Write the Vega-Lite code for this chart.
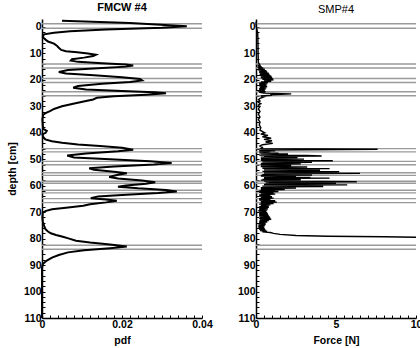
{
  "$schema": "https://vega.github.io/schema/vega-lite/v6.json",
  "padding": {"left": 7, "top": 1, "right": 0, "bottom": 0},
  "bounds": "flush",
  "spacing": 54,
  "config": {
    "view": {"stroke": null},
    "font": "Liberation Sans",
    "axis": {
      "grid": false,
      "domainColor": "black",
      "domainWidth": 1.5,
      "tickColor": "black",
      "tickWidth": 1,
      "tickSize": -3,
      "labelPadding": 4,
      "labelFont": "Liberation Sans",
      "labelFontWeight": "bold",
      "labelFontSize": 10.5,
      "labelColor": "black",
      "labelFlush": false,
      "labelOverlap": false,
      "titleFont": "Liberation Sans",
      "titleFontWeight": "bold",
      "titleFontSize": 10.5,
      "titleColor": "black",
      "titlePadding": 6
    },
    "title": {"font": "Liberation Sans", "fontSize": 11, "color": "black", "anchor": "middle", "offset": 4}
  },
  "datasets": {
    "layers": [
      {"depth": -1.2}, {"depth": 0.5}, {"depth": 14}, {"depth": 15.5}, {"depth": 19.5}, {"depth": 21},
      {"depth": 24.5}, {"depth": 26}, {"depth": 46}, {"depth": 47.2}, {"depth": 50.8}, {"depth": 52.1},
      {"depth": 55.1}, {"depth": 56.1}, {"depth": 58.3}, {"depth": 59.1}, {"depth": 61.7}, {"depth": 62.7},
      {"depth": 64.9}, {"depth": 66.4}, {"depth": 82.5}, {"depth": 84}
    ],
    "fmcw": [
      {"depth": -2.3, "pdf": 0.005}, {"depth": -1.5, "pdf": 0.022}, {"depth": -0.3, "pdf": 0.0362},
      {"depth": 0.3, "pdf": 0.03}, {"depth": 1.0, "pdf": 0.016}, {"depth": 1.6, "pdf": 0.007},
      {"depth": 2.2, "pdf": 0.003}, {"depth": 2.8, "pdf": 0.0005}, {"depth": 3.8, "pdf": 0.0002},
      {"depth": 4.7, "pdf": 0.0008}, {"depth": 5.5, "pdf": 0.0015}, {"depth": 6.3, "pdf": 0.003},
      {"depth": 7.2, "pdf": 0.0038}, {"depth": 7.9, "pdf": 0.0042}, {"depth": 8.7, "pdf": 0.0048},
      {"depth": 9.2, "pdf": 0.006}, {"depth": 9.6, "pdf": 0.0088}, {"depth": 10.0, "pdf": 0.0115},
      {"depth": 10.5, "pdf": 0.0135}, {"depth": 11.0, "pdf": 0.0128}, {"depth": 11.6, "pdf": 0.0105},
      {"depth": 12.2, "pdf": 0.0075}, {"depth": 12.7, "pdf": 0.0072}, {"depth": 13.2, "pdf": 0.009},
      {"depth": 13.7, "pdf": 0.015}, {"depth": 14.2, "pdf": 0.021}, {"depth": 14.6, "pdf": 0.0228},
      {"depth": 15.0, "pdf": 0.021}, {"depth": 15.6, "pdf": 0.014}, {"depth": 16.3, "pdf": 0.0065},
      {"depth": 17.0, "pdf": 0.0042}, {"depth": 17.6, "pdf": 0.006}, {"depth": 18.3, "pdf": 0.013},
      {"depth": 19.0, "pdf": 0.02}, {"depth": 19.7, "pdf": 0.0245}, {"depth": 20.2, "pdf": 0.025},
      {"depth": 20.8, "pdf": 0.022}, {"depth": 21.5, "pdf": 0.015}, {"depth": 22.3, "pdf": 0.009},
      {"depth": 23.0, "pdf": 0.0078}, {"depth": 23.6, "pdf": 0.011}, {"depth": 24.2, "pdf": 0.02},
      {"depth": 24.7, "pdf": 0.028}, {"depth": 25.1, "pdf": 0.031}, {"depth": 25.6, "pdf": 0.026},
      {"depth": 26.2, "pdf": 0.018}, {"depth": 26.8, "pdf": 0.0137}, {"depth": 27.4, "pdf": 0.0128},
      {"depth": 28.0, "pdf": 0.011}, {"depth": 29.0, "pdf": 0.0078}, {"depth": 30.0, "pdf": 0.005},
      {"depth": 31.0, "pdf": 0.003}, {"depth": 31.8, "pdf": 0.002}, {"depth": 32.5, "pdf": 0.001},
      {"depth": 33.2, "pdf": 0.0003}, {"depth": 35.0, "pdf": 0.0001}, {"depth": 37.0, "pdf": 0.0002},
      {"depth": 38.5, "pdf": 0.0003}, {"depth": 39.3, "pdf": 0.0012}, {"depth": 40.0, "pdf": 0.0009},
      {"depth": 40.6, "pdf": 0.0001}, {"depth": 41.5, "pdf": 0.0003}, {"depth": 42.5, "pdf": 0.0008},
      {"depth": 43.2, "pdf": 0.0025}, {"depth": 43.8, "pdf": 0.005}, {"depth": 44.4, "pdf": 0.009},
      {"depth": 45.0, "pdf": 0.0145}, {"depth": 45.7, "pdf": 0.02}, {"depth": 46.4, "pdf": 0.0228},
      {"depth": 47.0, "pdf": 0.019}, {"depth": 47.8, "pdf": 0.011}, {"depth": 48.6, "pdf": 0.0063},
      {"depth": 49.3, "pdf": 0.008}, {"depth": 50.0, "pdf": 0.017}, {"depth": 50.8, "pdf": 0.027},
      {"depth": 51.4, "pdf": 0.0324}, {"depth": 52.0, "pdf": 0.028}, {"depth": 52.7, "pdf": 0.018},
      {"depth": 53.4, "pdf": 0.0118}, {"depth": 54.0, "pdf": 0.013}, {"depth": 54.7, "pdf": 0.018},
      {"depth": 55.3, "pdf": 0.0212}, {"depth": 55.9, "pdf": 0.019}, {"depth": 56.7, "pdf": 0.0168},
      {"depth": 57.3, "pdf": 0.019}, {"depth": 58.0, "pdf": 0.025}, {"depth": 58.7, "pdf": 0.0283},
      {"depth": 59.3, "pdf": 0.026}, {"depth": 59.9, "pdf": 0.021}, {"depth": 60.4, "pdf": 0.019},
      {"depth": 61.0, "pdf": 0.024}, {"depth": 61.6, "pdf": 0.031}, {"depth": 62.2, "pdf": 0.0337},
      {"depth": 62.8, "pdf": 0.029}, {"depth": 63.5, "pdf": 0.02}, {"depth": 64.1, "pdf": 0.014},
      {"depth": 64.7, "pdf": 0.0122}, {"depth": 65.2, "pdf": 0.016}, {"depth": 65.7, "pdf": 0.0187},
      {"depth": 66.3, "pdf": 0.016}, {"depth": 67.0, "pdf": 0.012}, {"depth": 67.6, "pdf": 0.0103},
      {"depth": 68.3, "pdf": 0.006}, {"depth": 68.9, "pdf": 0.0025}, {"depth": 69.5, "pdf": 0.001},
      {"depth": 70.2, "pdf": 0.0002}, {"depth": 72.0, "pdf": 0.0001}, {"depth": 73.5, "pdf": 0.0002},
      {"depth": 74.5, "pdf": 0.0004}, {"depth": 75.5, "pdf": 0.0006}, {"depth": 76.5, "pdf": 0.0009},
      {"depth": 77.3, "pdf": 0.0015}, {"depth": 78.0, "pdf": 0.0022}, {"depth": 78.6, "pdf": 0.0035},
      {"depth": 79.2, "pdf": 0.005}, {"depth": 80.0, "pdf": 0.0068}, {"depth": 80.8, "pdf": 0.0085},
      {"depth": 81.5, "pdf": 0.012}, {"depth": 82.2, "pdf": 0.017}, {"depth": 83.0, "pdf": 0.0212},
      {"depth": 83.6, "pdf": 0.017}, {"depth": 84.4, "pdf": 0.0105}, {"depth": 85.2, "pdf": 0.0065},
      {"depth": 86.2, "pdf": 0.0042}, {"depth": 87.2, "pdf": 0.0025}, {"depth": 88.3, "pdf": 0.0012},
      {"depth": 89.6, "pdf": 0.0002}, {"depth": 91.0, "pdf": 0}, {"depth": 110, "pdf": 0}
    ],
    "smp": [
      {"depth": -2, "force": 0}, {"depth": 0, "force": 0.02}, {"depth": 1, "force": 0.06}, {"depth": 2, "force": 0.1},
      {"depth": 4, "force": 0.12}, {"depth": 6, "force": 0.12}, {"depth": 8, "force": 0.13}, {"depth": 10, "force": 0.13},
      {"depth": 12, "force": 0.14}, {"depth": 13.5, "force": 0.15},
      {"depth": 14.5, "force": 0.25}, {"depth": 14.75, "force": 0.1}, {"depth": 15, "force": 0.35}, {"depth": 15.25, "force": 0.1},
      {"depth": 15.5, "force": 0.45}, {"depth": 15.75, "force": 0.15}, {"depth": 16, "force": 0.55}, {"depth": 16.25, "force": 0.15},
      {"depth": 16.5, "force": 0.65}, {"depth": 16.75, "force": 0.2}, {"depth": 17, "force": 0.7}, {"depth": 17.25, "force": 0.2},
      {"depth": 17.5, "force": 0.8}, {"depth": 17.75, "force": 0.25}, {"depth": 18, "force": 0.85}, {"depth": 18.25, "force": 0.2},
      {"depth": 18.5, "force": 0.95}, {"depth": 18.75, "force": 0.3}, {"depth": 19, "force": 1.0}, {"depth": 19.25, "force": 0.3},
      {"depth": 19.5, "force": 1.05}, {"depth": 19.75, "force": 0.4}, {"depth": 20, "force": 1.1}, {"depth": 20.25, "force": 0.5},
      {"depth": 20.5, "force": 0.95}, {"depth": 20.75, "force": 0.3}, {"depth": 21, "force": 0.75}, {"depth": 21.25, "force": 0.2},
      {"depth": 21.5, "force": 0.7}, {"depth": 21.75, "force": 0.2}, {"depth": 22, "force": 0.65}, {"depth": 22.25, "force": 0.2},
      {"depth": 22.5, "force": 0.7}, {"depth": 22.75, "force": 0.25}, {"depth": 23, "force": 0.65}, {"depth": 23.25, "force": 0.2},
      {"depth": 23.5, "force": 0.6}, {"depth": 23.75, "force": 0.2}, {"depth": 24, "force": 0.55}, {"depth": 24.25, "force": 0.15},
      {"depth": 24.5, "force": 0.6}, {"depth": 24.75, "force": 0.2}, {"depth": 25, "force": 0.5}, {"depth": 25.3, "force": 2.2},
      {"depth": 25.6, "force": 0.9}, {"depth": 25.8, "force": 1.0}, {"depth": 26.1, "force": 0.3}, {"depth": 26.4, "force": 0.5},
      {"depth": 27, "force": 0.25}, {"depth": 27.5, "force": 0.15}, {"depth": 28, "force": 0.25}, {"depth": 28.5, "force": 0.15},
      {"depth": 29, "force": 0.3}, {"depth": 29.5, "force": 0.15}, {"depth": 30, "force": 0.25}, {"depth": 31, "force": 0.15},
      {"depth": 32, "force": 0.25}, {"depth": 33, "force": 0.15}, {"depth": 34, "force": 0.25}, {"depth": 35, "force": 0.15},
      {"depth": 36, "force": 0.25}, {"depth": 37, "force": 0.2}, {"depth": 38, "force": 0.3}, {"depth": 39, "force": 0.25},
      {"depth": 40, "force": 0.55}, {"depth": 40.5, "force": 0.3}, {"depth": 41, "force": 0.75}, {"depth": 41.5, "force": 0.4},
      {"depth": 42, "force": 0.95}, {"depth": 42.5, "force": 0.5}, {"depth": 43, "force": 1.0}, {"depth": 43.5, "force": 0.6},
      {"depth": 44, "force": 1.05}, {"depth": 44.5, "force": 0.4}, {"depth": 45, "force": 0.25}, {"depth": 45.5, "force": 0.4},
      {"depth": 46, "force": 0.3}, {"depth": 46.2, "force": 7.6},
      {"depth": 46.5, "force": 0.6}, {"depth": 46.65, "force": 0.2}, {"depth": 46.8, "force": 1.2}, {"depth": 46.95, "force": 0.3},
      {"depth": 47.1, "force": 0.9}, {"depth": 47.25, "force": 0.2}, {"depth": 47.4, "force": 0.6}, {"depth": 47.55, "force": 0.2},
      {"depth": 47.7, "force": 1.4}, {"depth": 47.85, "force": 0.3}, {"depth": 48.0, "force": 2.0}, {"depth": 48.15, "force": 0.4},
      {"depth": 48.3, "force": 1.6}, {"depth": 48.45, "force": 0.2}, {"depth": 48.6, "force": 3.2}, {"depth": 48.75, "force": 4.1},
      {"depth": 48.9, "force": 0.5}, {"depth": 49.05, "force": 2.2}, {"depth": 49.2, "force": 0.3}, {"depth": 49.35, "force": 2.6},
      {"depth": 49.5, "force": 0.4}, {"depth": 49.65, "force": 1.8}, {"depth": 49.8, "force": 0.3}, {"depth": 49.95, "force": 3.0},
      {"depth": 50.1, "force": 0.5}, {"depth": 50.25, "force": 2.4}, {"depth": 50.4, "force": 0.3}, {"depth": 50.55, "force": 4.8},
      {"depth": 50.7, "force": 0.6}, {"depth": 50.85, "force": 3.0}, {"depth": 51.0, "force": 0.4}, {"depth": 51.15, "force": 3.5},
      {"depth": 51.3, "force": 0.5}, {"depth": 51.45, "force": 2.0}, {"depth": 51.6, "force": 0.3}, {"depth": 51.75, "force": 2.8},
      {"depth": 51.9, "force": 0.4}, {"depth": 52.05, "force": 1.8}, {"depth": 52.2, "force": 0.3}, {"depth": 52.35, "force": 2.2},
      {"depth": 52.5, "force": 0.5}, {"depth": 52.65, "force": 1.5}, {"depth": 52.8, "force": 0.3}, {"depth": 52.95, "force": 3.2},
      {"depth": 53.1, "force": 0.6}, {"depth": 53.25, "force": 2.5}, {"depth": 53.4, "force": 0.4}, {"depth": 53.55, "force": 4.6},
      {"depth": 53.7, "force": 0.8}, {"depth": 53.85, "force": 3.0}, {"depth": 54.0, "force": 0.5}, {"depth": 54.15, "force": 4.0},
      {"depth": 54.3, "force": 0.6}, {"depth": 54.45, "force": 2.6}, {"depth": 54.6, "force": 0.4}, {"depth": 54.75, "force": 5.2},
      {"depth": 54.9, "force": 0.8}, {"depth": 55.05, "force": 3.8}, {"depth": 55.2, "force": 0.5}, {"depth": 55.35, "force": 6.5},
      {"depth": 55.5, "force": 0.7}, {"depth": 55.65, "force": 3.0}, {"depth": 55.8, "force": 0.4}, {"depth": 55.95, "force": 3.5},
      {"depth": 56.1, "force": 0.3}, {"depth": 56.25, "force": 1.6}, {"depth": 56.4, "force": 0.3}, {"depth": 56.55, "force": 2.5},
      {"depth": 56.7, "force": 0.5}, {"depth": 56.85, "force": 3.4}, {"depth": 57.0, "force": 0.6}, {"depth": 57.15, "force": 4.6},
      {"depth": 57.3, "force": 0.5}, {"depth": 57.45, "force": 2.4}, {"depth": 57.6, "force": 0.4}, {"depth": 57.75, "force": 2.8},
      {"depth": 57.9, "force": 0.3}, {"depth": 58.05, "force": 1.8}, {"depth": 58.2, "force": 0.5}, {"depth": 58.35, "force": 4.0},
      {"depth": 58.5, "force": 6.3}, {"depth": 58.65, "force": 0.8}, {"depth": 58.8, "force": 3.5}, {"depth": 58.95, "force": 0.6},
      {"depth": 59.1, "force": 5.0}, {"depth": 59.25, "force": 0.7}, {"depth": 59.4, "force": 2.8}, {"depth": 59.55, "force": 0.5},
      {"depth": 59.7, "force": 5.7}, {"depth": 59.85, "force": 0.8}, {"depth": 60.0, "force": 3.2}, {"depth": 60.15, "force": 0.4},
      {"depth": 60.3, "force": 4.2}, {"depth": 60.45, "force": 0.5}, {"depth": 60.6, "force": 2.0}, {"depth": 60.75, "force": 0.3},
      {"depth": 60.9, "force": 2.5}, {"depth": 61.05, "force": 0.4}, {"depth": 61.2, "force": 1.5}, {"depth": 61.35, "force": 0.3},
      {"depth": 61.5, "force": 1.8}, {"depth": 61.65, "force": 0.3}, {"depth": 61.8, "force": 1.2}, {"depth": 61.95, "force": 0.2},
      {"depth": 62.2, "force": 1.4}, {"depth": 62.45, "force": 0.2}, {"depth": 62.7, "force": 1.1}, {"depth": 62.95, "force": 0.3},
      {"depth": 63.2, "force": 1.2}, {"depth": 63.45, "force": 0.2}, {"depth": 63.7, "force": 0.9}, {"depth": 63.95, "force": 0.2},
      {"depth": 64.2, "force": 1.0}, {"depth": 64.45, "force": 0.3}, {"depth": 64.7, "force": 1.1}, {"depth": 64.95, "force": 0.2},
      {"depth": 65.2, "force": 0.9}, {"depth": 65.45, "force": 0.2}, {"depth": 65.7, "force": 1.2}, {"depth": 65.95, "force": 0.3},
      {"depth": 66.2, "force": 1.3}, {"depth": 66.45, "force": 0.3}, {"depth": 66.7, "force": 1.1}, {"depth": 66.95, "force": 0.2},
      {"depth": 67.2, "force": 0.9}, {"depth": 67.45, "force": 0.3}, {"depth": 67.7, "force": 0.8}, {"depth": 67.95, "force": 0.2},
      {"depth": 68.2, "force": 0.8}, {"depth": 68.45, "force": 0.2}, {"depth": 68.7, "force": 0.75}, {"depth": 68.95, "force": 0.2},
      {"depth": 69.2, "force": 0.7}, {"depth": 69.45, "force": 0.15}, {"depth": 69.7, "force": 0.65}, {"depth": 69.95, "force": 0.2},
      {"depth": 70.2, "force": 0.7}, {"depth": 70.45, "force": 0.2}, {"depth": 70.7, "force": 0.75}, {"depth": 70.95, "force": 0.2},
      {"depth": 71.2, "force": 0.8}, {"depth": 71.45, "force": 0.2}, {"depth": 71.7, "force": 0.85}, {"depth": 71.95, "force": 0.25},
      {"depth": 72.2, "force": 0.9}, {"depth": 72.45, "force": 0.2}, {"depth": 72.7, "force": 0.95}, {"depth": 72.95, "force": 0.25},
      {"depth": 73.2, "force": 0.8}, {"depth": 73.45, "force": 0.2}, {"depth": 73.7, "force": 0.7}, {"depth": 73.95, "force": 0.2},
      {"depth": 74.2, "force": 0.6}, {"depth": 74.45, "force": 0.15}, {"depth": 74.7, "force": 0.6}, {"depth": 74.95, "force": 0.15},
      {"depth": 75.2, "force": 0.55}, {"depth": 75.45, "force": 0.15}, {"depth": 75.7, "force": 0.5}, {"depth": 75.95, "force": 0.15},
      {"depth": 76.2, "force": 0.55}, {"depth": 76.45, "force": 0.2}, {"depth": 76.7, "force": 0.6}, {"depth": 76.95, "force": 0.25},
      {"depth": 77.2, "force": 0.7}, {"depth": 77.45, "force": 0.4}, {"depth": 77.7, "force": 0.9}, {"depth": 78.0, "force": 1.1},
      {"depth": 78.4, "force": 1.5}, {"depth": 78.8, "force": 2.5}, {"depth": 79.1, "force": 4.5}, {"depth": 79.3, "force": 8.0},
      {"depth": 79.5, "force": 10}
    ]
  },
  "hconcat": [
    {
      "title": {"text": "FMCW #4", "fontWeight": "bold"},
      "width": 160,
      "height": 299,
      "encoding": {
        "y": {
          "field": "depth", "type": "quantitative", "title": "depth [cm]",
          "scale": {"domain": [-3, 110], "reverse": true, "nice": false, "zero": false},
          "axis": {
            "labelOverlap": false,
            "values": [0, 2, 4, 6, 8, 10, 12, 14, 16, 18, 20, 22, 24, 26, 28, 30, 32, 34, 36, 38, 40, 42, 44, 46, 48, 50, 52, 54, 56, 58, 60, 62, 64, 66, 68, 70, 72, 74, 76, 78, 80, 82, 84, 86, 88, 90, 92, 94, 96, 98, 100, 102, 104, 106, 108, 110],
            "labelExpr": "datum.value % 10 === 0 ? format(datum.value, 'd') : ''"
          }
        }
      },
      "layer": [
        {
          "data": {"name": "layers"},
          "mark": {"type": "rule", "color": "#9a9a9a", "strokeWidth": 1.4}
        },
        {
          "data": {"name": "fmcw"},
          "mark": {"type": "line", "color": "black", "strokeWidth": 2},
          "encoding": {
            "order": {"field": "depth", "type": "quantitative"},
            "x": {
              "field": "pdf", "type": "quantitative", "title": "pdf",
              "scale": {"domain": [0, 0.04], "nice": false},
              "axis": {
                "labelOverlap": false,
                "values": [0, 0.002, 0.004, 0.006, 0.008, 0.01, 0.012, 0.014, 0.016, 0.018, 0.02, 0.022, 0.024, 0.026, 0.028, 0.03, 0.032, 0.034, 0.036, 0.038, 0.04],
                "labelExpr": "datum.value === 0 ? '0' : (datum.value === 0.02 ? '0.02' : (datum.value === 0.04 ? '0.04' : ''))"
              }
            }
          }
        }
      ]
    },
    {
      "title": {"text": "SMP#4", "fontWeight": "normal"},
      "width": 160,
      "height": 299,
      "encoding": {
        "y": {
          "field": "depth", "type": "quantitative", "title": null,
          "scale": {"domain": [-3, 110], "reverse": true, "nice": false, "zero": false},
          "axis": {
            "labelOverlap": false,
            "values": [0, 2, 4, 6, 8, 10, 12, 14, 16, 18, 20, 22, 24, 26, 28, 30, 32, 34, 36, 38, 40, 42, 44, 46, 48, 50, 52, 54, 56, 58, 60, 62, 64, 66, 68, 70, 72, 74, 76, 78, 80, 82, 84, 86, 88, 90, 92, 94, 96, 98, 100, 102, 104, 106, 108, 110],
            "labelExpr": "datum.value % 10 === 0 ? format(datum.value, 'd') : ''"
          }
        }
      },
      "layer": [
        {
          "data": {"name": "layers"},
          "mark": {"type": "rule", "color": "#9a9a9a", "strokeWidth": 1.4}
        },
        {
          "data": {"name": "smp"},
          "mark": {"type": "line", "color": "black", "strokeWidth": 1.4},
          "encoding": {
            "order": {"field": "depth", "type": "quantitative"},
            "x": {
              "field": "force", "type": "quantitative", "title": "Force [N]",
              "scale": {"domain": [0, 10], "nice": false},
              "axis": {
                "labelOverlap": false,
                "values": [0, 0.5, 1, 1.5, 2, 2.5, 3, 3.5, 4, 4.5, 5, 5.5, 6, 6.5, 7, 7.5, 8, 8.5, 9, 9.5, 10],
                "labelExpr": "datum.value % 5 === 0 ? format(datum.value, 'd') : ''"
              }
            }
          }
        }
      ]
    }
  ]
}
